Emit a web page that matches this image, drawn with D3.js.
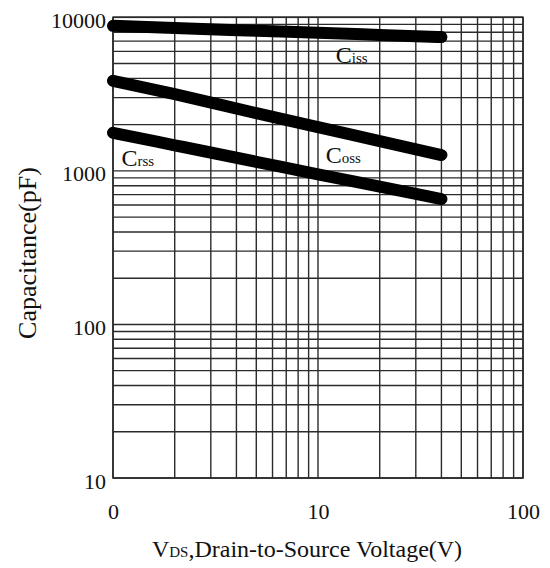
<!DOCTYPE html>
<html>
<head>
<meta charset="utf-8">
<script src="https://cdn.jsdelivr.net/npm/d3@7"></script>
<style>
  html, body { margin: 0; padding: 0; background: #fff; }
  svg { display: block; }
  text { font-family: "Liberation Serif", "Times New Roman", serif; fill: #111; }
</style>
</head>
<body>
<svg id="chart" width="550" height="568"></svg>
<script>
// ---- data ----
const vds = [1, 2, 5, 10, 20, 40];
const ciss = [8800, 8520, 8170, 7920, 7680, 7440];
const coss = [3860, 3155, 2375, 1925, 1563, 1268];
const crss = [1770, 1468, 1146, 950, 789, 655];
const xTickValues = [1, 10, 100];
const xTickLabels = ["0", "10", "100"];
const yTickValues = [10, 100, 1000, 10000];
const yTickLabels = ["10", "100", "1000", "10000"];
const seriesNames = ["iss", "oss", "rss"];
const labelAt = [[12.2, 5040], [10.9, 1124], [1.1, 1075]];

// ---- layout ----
const svg = d3.select("#chart");
const pL = 113, pR = 523, pT = 17.3, pB = 478;

const x = d3.scaleLog().domain([1, 100]).range([pL, pR]);
const y = d3.scaleLog().domain([10, 10000]).range([pB, pT]);

// grid
const gridColor = "#2b2b2b";
svg.append("g").selectAll("line").data(x.ticks()).join("line")
  .attr("x1", d => x(d)).attr("x2", d => x(d))
  .attr("y1", pT).attr("y2", pB)
  .attr("stroke", gridColor).attr("stroke-width", 1.4);
svg.append("g").selectAll("line").data(y.ticks()).join("line")
  .attr("x1", pL).attr("x2", pR)
  .attr("y1", d => y(d)).attr("y2", d => y(d))
  .attr("stroke", gridColor).attr("stroke-width", 1.4);
svg.append("rect").attr("x", pL).attr("y", pT)
  .attr("width", pR - pL).attr("height", pB - pT)
  .attr("fill", "none").attr("stroke", gridColor).attr("stroke-width", 1.6);

// axes
const xAxis = d3.axisBottom(x).tickValues(xTickValues)
  .tickFormat((d, i) => xTickLabels[i]).tickSize(0).tickPadding(0);
const gx = svg.append("g").attr("transform", `translate(0,${pB + 33})`).call(xAxis);
gx.select(".domain").remove();
gx.selectAll("text").attr("font-size", 22).attr("dy", "0.35em")
  .attr("font-family", "Liberation Serif").attr("fill", "#111");

const yAxis = d3.axisLeft(y).tickValues(yTickValues)
  .tickFormat((d, i) => yTickLabels[i]).tickSize(0).tickPadding(0);
const gy = svg.append("g").attr("transform", `translate(${pL - 7},3)`).call(yAxis);
gy.select(".domain").remove();
gy.selectAll("text").attr("font-size", 22)
  .attr("font-family", "Liberation Serif").attr("fill", "#111");

// curves
const line = d3.line().x(d => x(d[0])).y(d => y(d[1])).curve(d3.curveMonotoneX);
[ciss, coss, crss].forEach(vals => {
  svg.append("path").datum(vds.map((v, i) => [v, vals[i]]))
    .attr("d", line).attr("fill", "none").attr("stroke", "#000")
    .attr("stroke-width", 12).attr("stroke-linecap", "round").attr("stroke-linejoin", "round");
});

// series labels
seriesNames.forEach((s, i) => {
  const t = svg.append("text").attr("x", x(labelAt[i][0])).attr("y", y(labelAt[i][1]))
    .attr("font-size", 24);
  t.append("tspan").text("C");
  t.append("tspan").attr("font-size", 15).text(s);
});

// axis titles
const xt = svg.append("text").attr("x", 307).attr("y", 557).attr("text-anchor", "middle")
  .attr("font-size", 24);
xt.append("tspan").text("V");
xt.append("tspan").attr("font-size", 15).text("DS");
xt.append("tspan").text(",Drain-to-Source Voltage(V)");

svg.append("text").attr("transform", "translate(36,253) rotate(-90)")
  .attr("text-anchor", "middle").attr("font-size", 26).text("Capacitance(pF)");
</script>
</body>
</html>
